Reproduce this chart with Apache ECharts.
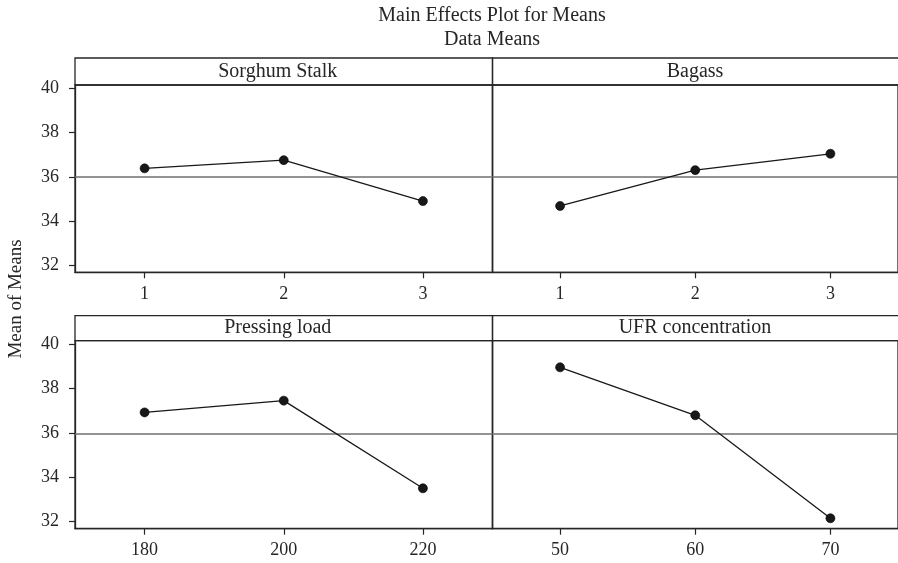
<!DOCTYPE html>
<html>
<head>
<meta charset="utf-8">
<title>Main Effects Plot for Means</title>
<script src="https://cdn.jsdelivr.net/npm/echarts@6/dist/echarts.min.js"></script>
<style>
  html, body { margin: 0; padding: 0; background: #fff; }
  #chart { width: 898px; height: 563px; }
</style>
</head>
<body>
<div id="chart"></div>
<script>
// Factor levels and the mean response at each level
const sorghumLevels = ['1', '2', '3'];
const sorghumMeans = [36.38, 36.75, 34.90];
const bagassLevels = ['1', '2', '3'];
const bagassMeans = [34.68, 36.30, 37.04];
const pressingLevels = ['180', '200', '220'];
const pressingMeans = [36.92, 37.45, 33.50];
const ufrLevels = ['50', '60', '70'];
const ufrMeans = [38.95, 36.79, 32.15];
const panelTitles = ['Sorghum Stalk', 'Bagass', 'Pressing load', 'UFR concentration'];
const yTicks = [32, 34, 36, 38, 40];
const grandMean = 35.98;

// Panel geometry (pixels)
const FONT = 'Liberation Serif';
const INK = '#262626';
const leftX = 75, divX = 492.5, rightEnd = 909.5;
const rows = [
  { frameTop: 58, dataTop: 85, dataBottom: 272.3 },
  { frameTop: 315.7, dataTop: 340.7, dataBottom: 528.7 }
];
const yMin = 31.68, yMax = 40.15;

const levels = [sorghumLevels, bagassLevels, pressingLevels, ufrLevels];
const means = [sorghumMeans, bagassMeans, pressingMeans, ufrMeans];

const grids = [], xAxes = [], yAxes = [], series = [], graphics = [];

for (let i = 0; i < 4; i++) {
  const row = rows[Math.floor(i / 2)];
  const isLeft = i % 2 === 0;
  const x0 = isLeft ? leftX : divX;
  const x1 = isLeft ? divX : rightEnd;
  grids.push({
    left: x0, top: row.dataTop,
    width: x1 - x0, height: row.dataBottom - row.dataTop,
    show: true, borderColor: INK, borderWidth: 1.3
  });
  xAxes.push({
    type: 'category', gridIndex: i, data: levels[i], boundaryGap: true,
    axisLine: { show: true, lineStyle: { color: INK, width: 1.3 } },
    axisTick: { show: true, alignWithLabel: true, length: 6, lineStyle: { color: INK, width: 1.2 } },
    axisLabel: { show: true, margin: 13, color: INK, fontFamily: FONT, fontSize: 18 },
    splitLine: { show: false }
  });
  yAxes.push({
    type: 'value', gridIndex: i, min: yMin, max: yMax,
    axisLine: { show: true, lineStyle: { color: INK, width: 1.3 } },
    axisTick: { show: isLeft, length: 6, customValues: yTicks, lineStyle: { color: INK, width: 1.2 } },
    axisLabel: { show: isLeft, margin: 16, customValues: yTicks, color: INK, fontFamily: FONT, fontSize: 18 },
    splitLine: { show: false }
  });
  series.push({
    type: 'line', xAxisIndex: i, yAxisIndex: i, data: means[i],
    symbol: 'circle', symbolSize: 9, silent: true,
    itemStyle: { color: '#181818', borderColor: '#000', borderWidth: 0.6 },
    lineStyle: { color: '#181818', width: 1.3 },
    markLine: {
      silent: true, symbol: 'none', label: { show: false },
      lineStyle: { color: '#6f6f6f', width: 1.5, type: 'solid' },
      data: [{ yAxis: grandMean }]
    },
    z: 5
  });
  // panel header strip
  graphics.push({
    type: 'rect', silent: true,
    shape: { x: x0, y: row.frameTop, width: x1 - x0, height: row.dataTop - row.frameTop },
    style: { fill: 'none', stroke: INK, lineWidth: 1.3 }
  });
  graphics.push({
    type: 'text', silent: true,
    x: (x0 + x1) / 2 - 6, y: (row.frameTop + row.dataTop) / 2,
    style: {
      text: panelTitles[i], fill: INK, font: '20px "' + FONT + '"',
      textAlign: 'center', textVerticalAlign: 'middle'
    }
  });
}

// Title lines and shared y-axis name
graphics.push({
  type: 'text', silent: true, x: 492, y: 16,
  style: { text: 'Main Effects Plot for Means', fill: INK, font: '20px "' + FONT + '"',
           textAlign: 'center', textVerticalAlign: 'middle' }
});
graphics.push({
  type: 'text', silent: true, x: 492, y: 40,
  style: { text: 'Data Means', fill: INK, font: '20px "' + FONT + '"',
           textAlign: 'center', textVerticalAlign: 'middle' }
});
graphics.push({
  type: 'text', silent: true, x: 16, y: 299, rotation: Math.PI / 2,
  style: { text: 'Mean of Means', fill: INK, font: '19px "' + FONT + '"',
           textAlign: 'center', textVerticalAlign: 'middle' }
});

const chart = echarts.init(document.getElementById('chart'), null, { renderer: 'canvas' });
chart.setOption({
  animation: false,
  backgroundColor: '#fff',
  grid: grids,
  xAxis: xAxes,
  yAxis: yAxes,
  series: series,
  graphic: graphics
});
</script>
</body>
</html>
